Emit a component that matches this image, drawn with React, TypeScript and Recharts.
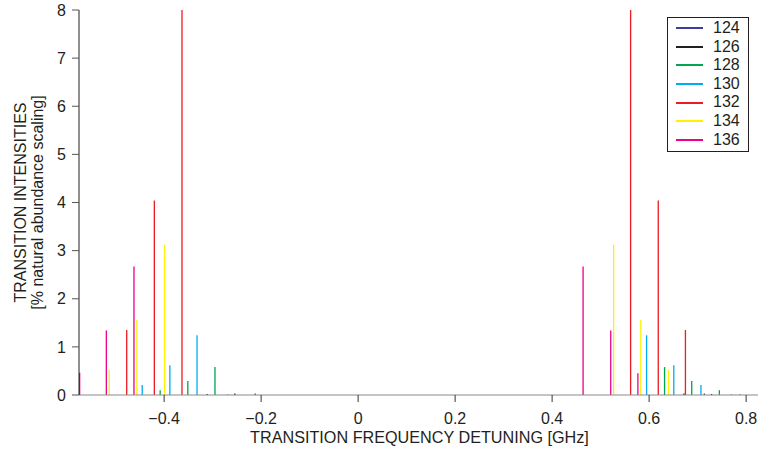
import { ComposedChart, Bar, XAxis, YAxis, Legend } from 'recharts'

// isotopes and their colours (legend order)
const ISOTOPES = ['124', '126', '128', '130', '132', '134', '136']
const COLORS = ['#3d3d9b', '#231f20', '#00a651', '#00aeef', '#ed1c24', '#fff200', '#ec008c']

// transition detunings [GHz] and intensities [% natural abundance scaling]
const det124 = [-0.269, -0.212, 0.714, 0.77]
const int124 = [0.01, 0.03, 0.03, 0.01]
const det126 = [-0.311, -0.254, 0.672, 0.729, 0.787]
const int126 = [0.02, 0.03, 0.03, 0.02, 0.01]
const det128 = [-0.408, -0.351, -0.295, 0.632, 0.688, 0.745]
const int128 = [0.1, 0.29, 0.58, 0.58, 0.29, 0.1]
const det130 = [-0.445, -0.388, -0.332, 0.595, 0.651, 0.707]
const int130 = [0.21, 0.62, 1.24, 1.24, 0.62, 0.21]
const det132 = [-0.477, -0.42, -0.363, 0.562, 0.619, 0.675]
const int132 = [1.35, 4.04, 8.06, 8.06, 4.04, 1.35]
const det134 = [-0.513, -0.456, -0.399, 0.527, 0.583, 0.64]
const int134 = [0.52, 1.56, 3.12, 3.12, 1.56, 0.52]
const det136 = [-0.574, -0.519, -0.462, 0.464, 0.521, 0.577]
const int136 = [0.46, 1.34, 2.67, 2.67, 1.34, 0.45]

const DETUNINGS = [det124, det126, det128, det130, det132, det134, det136]
const INTENSITIES = [int124, int126, int128, int130, int132, int134, int136]

const X_TICKS = [-0.4, -0.2, 0, 0.2, 0.4, 0.6, 0.8]
const Y_TICKS = [0, 1, 2, 3, 4, 5, 6, 7, 8]

const FONT = "'Liberation Sans', Arial, Helvetica, sans-serif"
const INK = '#231f20'

// one row per stick, only its own isotope key is set
const data = ISOTOPES.flatMap((iso, i) =>
  DETUNINGS[i].map((d, j) => ({ x: d, [iso]: INTENSITIES[i][j] }))
).sort((a, b) => a.x - b.x)

const fmt = (v: number) => String(v).replace('-', '\u2212')

const YTitle = (props: any) => {
  const vb = props.viewBox || { y: 10, height: 385 }
  const cy = vb.y + vb.height / 2
  return (
    <g fontFamily={FONT} fontSize={16} fill={INK}>
      <text transform={`translate(25.5, ${cy}) rotate(-90)`} textAnchor="middle">
        TRANSITION INTENSITIES
      </text>
      <text transform={`translate(42.5, ${cy}) rotate(-90)`} textAnchor="middle">
        [% natural abundance scaling]
      </text>
    </g>
  )
}

const XTitle = (props: any) => {
  const vb = props.viewBox || { x: 79, width: 679 }
  return (
    <text x={vb.x + vb.width / 2 + 1} y={443} textAnchor="middle" fontFamily={FONT} fontSize={16.2} fill={INK}>
      TRANSITION FREQUENCY DETUNING [GHz]
    </text>
  )
}

const LegendBox = ({ payload }: any) => {
  const items = payload && payload.length
    ? payload.map((p: any) => ({ name: p.value, color: p.color }))
    : ISOTOPES.map((iso, i) => ({ name: iso, color: COLORS[i] }))
  return (
    <div style={{ border: `1px solid ${INK}`, background: '#fff', width: 80, padding: '1px 0 2px', fontFamily: FONT }}>
      {items.map((it: any) => (
        <div key={it.name} style={{ display: 'flex', alignItems: 'center', height: 18.6 }}>
          <span style={{ display: 'inline-block', width: 27, height: 2, background: it.color, marginLeft: 8 }} />
          <span style={{ marginLeft: 10, fontSize: 16, lineHeight: '18.6px', color: INK }}>{it.name}</span>
        </div>
      ))}
    </div>
  )
}

export default function App() {
  return (
    <div style={{ position: 'absolute', left: 0, top: 0, width: 759, height: 454, background: '#fff', fontFamily: FONT }}>
      <ComposedChart width={759} height={454} data={data} margin={{ top: 10, right: 1, bottom: 0, left: 0 }}>
        <XAxis
          type="number"
          dataKey="x"
          domain={[-0.5755, 0.8245]}
          allowDataOverflow
          ticks={X_TICKS}
          interval={0}
          tickFormatter={fmt}
          height={59}
          tickSize={7}
          tickMargin={11}
          axisLine={{ stroke: '#8a8a8a' }}
          tickLine={{ stroke: '#333' }}
          tick={{ fontSize: 16, fill: INK, fontFamily: FONT }}
          label={{ content: XTitle }}
        />
        <YAxis
          type="number"
          domain={[0, 8]}
          allowDataOverflow
          ticks={Y_TICKS}
          interval={0}
          width={79}
          tickSize={7}
          tickMargin={6}
          axisLine={{ stroke: INK }}
          tickLine={{ stroke: '#555' }}
          tick={{ fontSize: 16, fill: INK, fontFamily: FONT }}
          label={{ content: YTitle }}
        />
        <Legend
          layout="vertical"
          align="center"
          verticalAlign="middle"
          content={LegendBox}
          wrapperStyle={{ left: 667, top: 17, width: 'auto', height: 'auto' }}
        />
        {ISOTOPES.map((iso, i) => (
          <Bar
            key={iso}
            dataKey={iso}
            name={iso}
            stackId="s"
            fill={COLORS[i]}
            barSize={3}
            legendType="line"
            isAnimationActive={false}
          />
        ))}
      </ComposedChart>
    </div>
  )
}
